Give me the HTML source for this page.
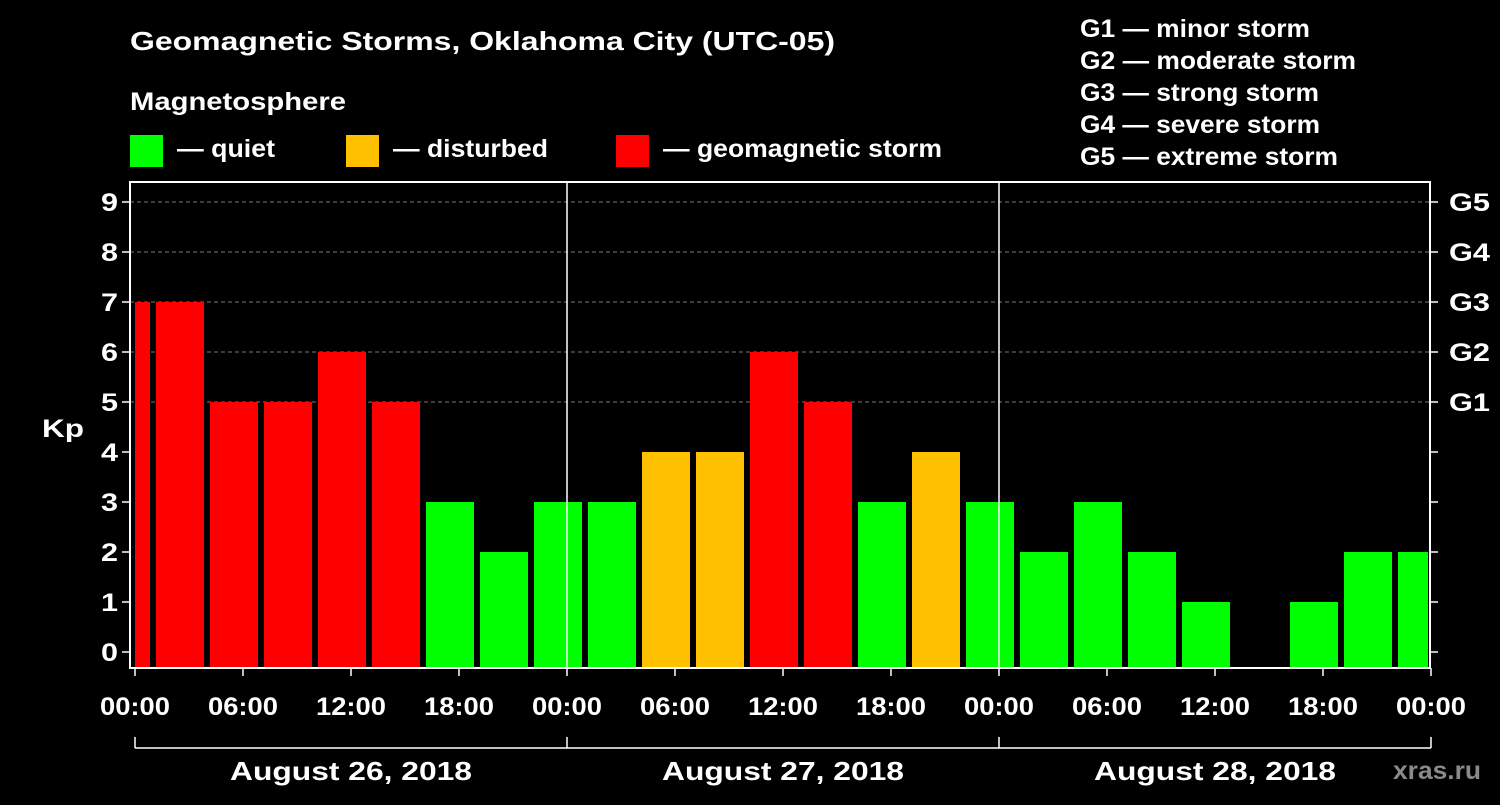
<!DOCTYPE html>
<html><head><meta charset="utf-8"><style>
body{margin:0;background:#000;width:1500px;height:800px;overflow:hidden}
svg text{font-family:"Liberation Sans",Arial,sans-serif;font-weight:bold;fill:#fff}
</style></head><body>
<svg id="c" width="1500" height="800">
<text x="130" y="50" font-size="26" textLength="705" lengthAdjust="spacingAndGlyphs">Geomagnetic Storms, Oklahoma City (UTC-05)</text>
<text x="130" y="110" font-size="25" textLength="216" lengthAdjust="spacingAndGlyphs">Magnetosphere</text>
<rect x="130" y="135" width="33" height="32" fill="#00ff00"/>
<text x="177" y="157" font-size="25" textLength="98" lengthAdjust="spacingAndGlyphs">— quiet</text>
<rect x="346" y="135" width="33" height="32" fill="#ffc000"/>
<text x="393" y="157" font-size="25" textLength="155" lengthAdjust="spacingAndGlyphs">— disturbed</text>
<rect x="616" y="135" width="33" height="32" fill="#ff0000"/>
<text x="663" y="157" font-size="25" textLength="279" lengthAdjust="spacingAndGlyphs">— geomagnetic storm</text>
<g font-size="25">
<text x="1080" y="37" textLength="230" lengthAdjust="spacingAndGlyphs">G1 — minor storm</text>
<text x="1080" y="69" textLength="276" lengthAdjust="spacingAndGlyphs">G2 — moderate storm</text>
<text x="1080" y="101" textLength="239" lengthAdjust="spacingAndGlyphs">G3 — strong storm</text>
<text x="1080" y="133" textLength="240" lengthAdjust="spacingAndGlyphs">G4 — severe storm</text>
<text x="1080" y="165" textLength="258" lengthAdjust="spacingAndGlyphs">G5 — extreme storm</text>
</g>
<text x="42" y="437" font-size="25" textLength="42" lengthAdjust="spacingAndGlyphs">Kp</text>
<text x="1393" y="779" font-size="25" textLength="88" lengthAdjust="spacingAndGlyphs" style="fill:#8a8a8a">xras.ru</text>
<g id="plot"></g>
</svg>
<script>
const barStartHours=[-2,1,4,7,10,13,16,19,22,25,28,31,34,37,40,43,46,49,52,55,58,61,64,67,70];
const kpValues=[7,7,5,5,6,5,3,2,3,3,4,4,6,5,3,4,3,2,3,2,1,0,1,2,2];
const yTicks=[0,1,2,3,4,5,6,7,8,9];
const gLabels=["G1","G2","G3","G4","G5"];
const xTickLabels=["00:00","06:00","12:00","18:00","00:00","06:00","12:00","18:00","00:00","06:00","12:00","18:00","00:00"];
const dayLabels=["August 26, 2018","August 27, 2018","August 28, 2018"];

const X0=135,PX_H=18,L=130,R=1430,T=182,B=668;
const xs=h=>X0+h*PX_H;
const ys=v=>652-v*50;
const ns="http://www.w3.org/2000/svg";
const g=document.getElementById('plot');
function mk(tag,attrs,parent){const e=document.createElementNS(ns,tag);for(const k in attrs)e.setAttribute(k,attrs[k]);(parent||g).appendChild(e);return e;}

yTicks.forEach(v=>{
  if(v>=5){const l=mk('line',{x1:L,x2:R,y1:ys(v),y2:ys(v),stroke:'#777','stroke-dasharray':'4,3'});
  
  }
  const t1=mk('line',{x1:L-8,x2:L,y1:ys(v),y2:ys(v),stroke:'#fff','stroke-width':1.5});
  
  
  const t2=mk('line',{x1:R,x2:R+8,y1:ys(v),y2:ys(v),stroke:'#fff','stroke-width':1.5});
  
  
  const tx=mk('text',{x:L-12,y:ys(v)+9,'font-size':25,'text-anchor':'end',textLength:17,lengthAdjust:'spacingAndGlyphs'});tx.textContent=v;
  
  
  if(v>=5){const gt=mk('text',{x:R+19,y:ys(v)+9,'font-size':25,textLength:41,lengthAdjust:'spacingAndGlyphs'});gt.textContent=gLabels[v-5];
  
  }
});

barStartHours.forEach((h,i)=>{
  const v=kpValues[i];if(v<=0)return;
  let x1=Math.max(xs(h)+3,X0),x2=Math.min(xs(h+3)-3,R-2);
  const c=v>=5?'#ff0000':(v>=4?'#ffc000':'#00ff00');
  const r=mk('rect',{x:x1,y:ys(v),width:x2-x1,height:B-ys(v),fill:c});
  
  
});

[24,48].forEach(h=>{const l=mk('line',{x1:xs(h),x2:xs(h),y1:T,y2:B,stroke:'#fff','stroke-width':1.5});

});

const fr=mk('rect',{x:L,y:T,width:R-L,height:B-T,fill:'none',stroke:'#fff','stroke-width':2});



xTickLabels.forEach((s,i)=>{
  const x=xs(i*6);
  const t=mk('line',{x1:x,x2:x,y1:B,y2:B+8,stroke:'#fff','stroke-width':1.5});
  
  
  const tx=mk('text',{x:x-35,y:715,'font-size':25,textLength:70,lengthAdjust:'spacingAndGlyphs'});tx.textContent=s;
  
  
});
const br=mk('line',{x1:xs(0),x2:xs(72),y1:748,y2:748,stroke:'#fff','stroke-width':1.5});


[0,24,48,72].forEach(h=>{const l=mk('line',{x1:xs(h),x2:xs(h),y1:737,y2:748,stroke:'#fff','stroke-width':1.5});

});
dayLabels.forEach((s,i)=>{const tx=mk('text',{x:xs(i*24+12)-121,y:780,'font-size':26,textLength:242,lengthAdjust:'spacingAndGlyphs'});tx.textContent=s;

});
</script>
</body></html>
